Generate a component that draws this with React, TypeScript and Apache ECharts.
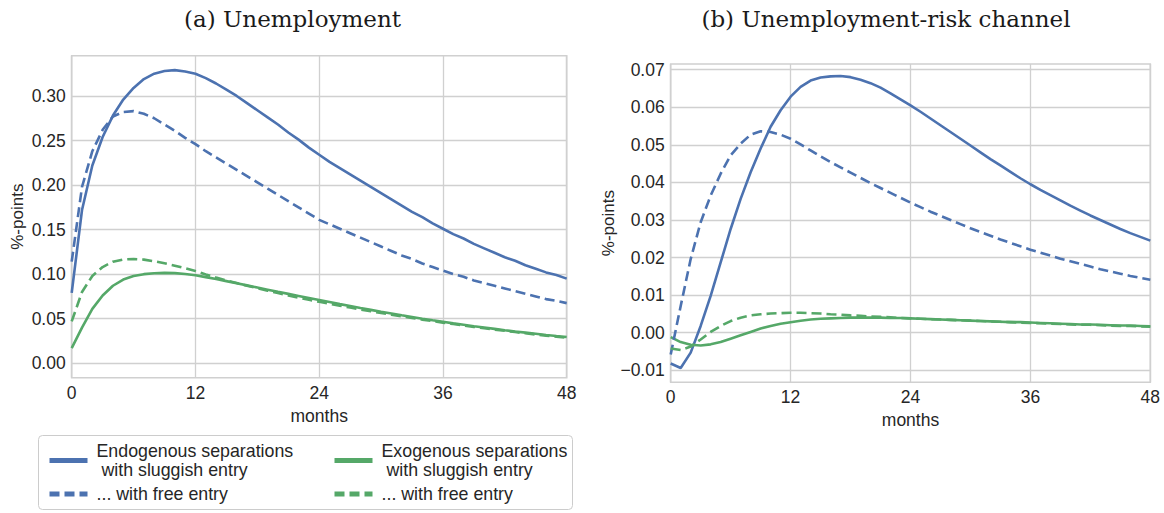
import React, { useEffect, useRef } from "react";
import * as echarts from "echarts";

// Horizon in months after the shock
const months: number[] = Array.from({ length: 49 }, (_, i) => i);

// Panel (a): unemployment response, %-points
const unempEndoSluggish = [
  0.079, 0.172, 0.222, 0.254, 0.278, 0.296, 0.309, 0.319, 0.325, 0.328,
  0.329, 0.3275, 0.325, 0.320, 0.314, 0.307, 0.300, 0.292, 0.284, 0.276,
  0.268, 0.259, 0.251, 0.242, 0.234, 0.226, 0.219, 0.212, 0.205, 0.198,
  0.191, 0.184, 0.177, 0.170, 0.164, 0.157, 0.151, 0.145, 0.140, 0.134,
  0.129, 0.124, 0.119, 0.115, 0.110, 0.106, 0.102, 0.099, 0.095,
];
const unempEndoFree = [
  0.114, 0.198, 0.238, 0.262, 0.277, 0.282, 0.283, 0.280, 0.275, 0.268,
  0.261, 0.253, 0.246, 0.238, 0.231, 0.224, 0.217, 0.210, 0.203, 0.196,
  0.189, 0.182, 0.175, 0.168, 0.161, 0.156, 0.151, 0.146, 0.141, 0.136,
  0.131, 0.126, 0.121, 0.117, 0.112, 0.108, 0.104, 0.100, 0.097, 0.093,
  0.090, 0.087, 0.084, 0.081, 0.078, 0.075, 0.072, 0.070, 0.0675,
];
const unempExoSluggish = [
  0.017, 0.040, 0.061, 0.076, 0.087, 0.094, 0.098, 0.100, 0.101, 0.1015,
  0.1012, 0.1002, 0.0988, 0.0967, 0.0945, 0.0922, 0.0898, 0.0874, 0.0850, 0.0826,
  0.0802, 0.0779, 0.0756, 0.0733, 0.0710, 0.0687, 0.0664, 0.0642, 0.0620, 0.0599,
  0.0578, 0.0558, 0.0538, 0.0519, 0.0500, 0.0482, 0.0465, 0.0448, 0.0432, 0.0416,
  0.0401, 0.0386, 0.0371, 0.0357, 0.0344, 0.0331, 0.0318, 0.0306, 0.0295,
];
const unempExoFree = [
  0.047, 0.080, 0.098, 0.108, 0.114, 0.1165, 0.117, 0.1163, 0.1145, 0.1122,
  0.1095, 0.1066, 0.1036, 0.0997, 0.0962, 0.0930, 0.0900, 0.0870, 0.0842, 0.0815,
  0.0788, 0.0762, 0.0737, 0.0713, 0.0690, 0.0668, 0.0646, 0.0625, 0.0604, 0.0584,
  0.0564, 0.0545, 0.0526, 0.0508, 0.0490, 0.0473, 0.0456, 0.0440, 0.0424, 0.0408,
  0.0393, 0.0378, 0.0364, 0.0350, 0.0336, 0.0323, 0.0310, 0.0298, 0.0286,
];

// Panel (b): unemployment-risk channel, %-points
const riskEndoSluggish = [
  -0.0082, -0.0094, -0.0053, 0.0018, 0.0098, 0.0187, 0.0276, 0.0356, 0.0427, 0.0490,
  0.0548, 0.0592, 0.0628, 0.0654, 0.0671, 0.0679, 0.0682, 0.0683, 0.0680, 0.0673,
  0.0664, 0.0652, 0.0637, 0.0621, 0.0605, 0.0588, 0.0570, 0.0552, 0.0534, 0.0516,
  0.0498, 0.0480, 0.0462, 0.0445, 0.0428, 0.0411, 0.0395, 0.0380, 0.0366, 0.0352,
  0.0338, 0.0325, 0.0312, 0.0300, 0.0288, 0.0276, 0.0265, 0.0255, 0.0245,
];
const riskEndoFree = [
  -0.0058, 0.0071, 0.0196, 0.0294, 0.0365, 0.0423, 0.0472, 0.0503, 0.0527, 0.0536,
  0.0534, 0.0527, 0.0516, 0.0501, 0.0485, 0.0469, 0.0454, 0.0440, 0.0426, 0.0412,
  0.0398, 0.0385, 0.0372, 0.0359, 0.0346, 0.0334, 0.0322, 0.0311, 0.0300, 0.0289,
  0.0278, 0.0268, 0.0258, 0.0248, 0.0239, 0.0230, 0.0221, 0.0213, 0.0205, 0.0197,
  0.0190, 0.0183, 0.0176, 0.0169, 0.0163, 0.0157, 0.0151, 0.0146, 0.0141,
];
const riskExoSluggish = [
  -0.0012, -0.0025, -0.0032, -0.0034, -0.0031, -0.0025, -0.0016, -0.0007, 0.0002, 0.0011,
  0.0018, 0.0024, 0.0028, 0.0032, 0.0035, 0.0037, 0.0038, 0.0039, 0.0040, 0.0040,
  0.0040, 0.0040, 0.0039, 0.0039, 0.0038, 0.0037, 0.0036, 0.0035, 0.0034, 0.0033,
  0.0032, 0.0031, 0.0030, 0.0029, 0.0028, 0.0028, 0.0027, 0.0026, 0.0025, 0.0024,
  0.0023, 0.0022, 0.0022, 0.0021, 0.0020, 0.0019, 0.0019, 0.0018, 0.0017,
];
const riskExoFree = [
  -0.0042, -0.0046, -0.0037, -0.0018, 0.0002, 0.0018, 0.0031, 0.0040, 0.0046, 0.0049,
  0.0051, 0.0052, 0.0053, 0.0053, 0.0052, 0.0051, 0.0049, 0.0048, 0.0046, 0.0045,
  0.0043, 0.0042, 0.0041, 0.0039, 0.0038, 0.0037, 0.0036, 0.0035, 0.0034, 0.0033,
  0.0032, 0.0031, 0.0030, 0.0029, 0.0028, 0.0027, 0.0026, 0.0025, 0.0024, 0.0023,
  0.0022, 0.0021, 0.0021, 0.0020, 0.0019, 0.0018, 0.0018, 0.0017, 0.0016,
];

// Tick values
const unempTicks = [0, 0.05, 0.1, 0.15, 0.2, 0.25, 0.3];
const riskTicks = [-0.01, 0, 0.01, 0.02, 0.03, 0.04, 0.05, 0.06, 0.07];

const panelTitles = ["(a) Unemployment", "(b) Unemployment-risk channel"];
const legendLabels: Record<string, string> = {
  endoSluggish: "Endogenous separations\n with sluggish entry",
  endoFree: "... with free entry",
  exoSluggish: "Exogenous separations\n with sluggish entry",
  exoFree: "... with free entry",
};

const BLUE = "#4C72B0";
const GREEN = "#55A868";
const GRID_GREY = "#d0d0d0";
const TEXT = "#262626";
const SANS = "Liberation Sans, Arial, sans-serif";

const fmtTick = (v: number) => {
  const s = Math.abs(v).toFixed(2);
  return v < -1e-9 ? "\u2212" + s : s;
};

const pairs = (ys: number[]) => months.map((m, i) => [m, ys[i]]);

function lineSeries(name: string, ys: number[], color: string, dashed: boolean, idx: number) {
  return {
    type: "line",
    name,
    xAxisIndex: idx,
    yAxisIndex: idx,
    data: pairs(ys),
    symbol: "none",
    smooth: false,
    lineStyle: {
      color,
      width: 2.6,
      type: dashed ? [10, 5] : "solid",
    },
    itemStyle: { color },
    z: dashed ? 3 : 2,
  };
}

function xAxisFor(idx: number) {
  return {
    type: "value",
    gridIndex: idx,
    min: 0,
    max: 48,
    interval: 12,
    name: "months",
    nameLocation: "middle",
    nameGap: 23,
    nameTextStyle: { fontFamily: SANS, fontSize: 17.5, color: TEXT },
    axisLine: { show: false },
    axisTick: { show: false },
    axisLabel: { fontFamily: SANS, fontSize: 17.5, color: TEXT, margin: 6 },
    splitLine: { show: true, lineStyle: { color: GRID_GREY, width: 1.3 } },
  };
}

function yAxisFor(idx: number, min: number, max: number, ticks: number[], nameGap: number) {
  return {
    type: "value",
    gridIndex: idx,
    min,
    max,
    name: "%-points",
    nameLocation: "middle",
    nameGap,
    nameRotate: 90,
    nameTextStyle: { fontFamily: SANS, fontSize: 17, color: TEXT },
    axisLine: { show: false },
    axisTick: { show: false, customValues: ticks },
    axisLabel: {
      fontFamily: SANS,
      fontSize: 17.5,
      color: TEXT,
      margin: 6,
      customValues: ticks,
      formatter: (v: number) => fmtTick(v),
    },
    splitLine: { show: true, lineStyle: { color: GRID_GREY, width: 1.3 } },
  };
}

function legendColumn(left: number, names: string[]) {
  return {
    orient: "vertical",
    left,
    top: 436.5,
    itemWidth: 38,
    itemHeight: 14,
    itemGap: 5,
    data: names,
    formatter: (name: string) => legendLabels[name],
    selectedMode: false,
    itemStyle: { opacity: 0 },
    lineStyle: { width: 5 },
    textStyle: {
      fontFamily: SANS,
      fontSize: 17.8,
      lineHeight: 19,
      color: TEXT,
      padding: [0, 0, 0, 4],
    },
  };
}

export default function App() {
  const ref = useRef<HTMLDivElement>(null);

  useEffect(() => {
    if (!ref.current) return;
    const chart = echarts.init(ref.current, undefined, { renderer: "svg" });

    chart.setOption({
      animation: false,
      backgroundColor: "#ffffff",
      grid: [
        {
          left: 71.7,
          top: 55.7,
          right: 1164 - 566.7,
          bottom: 513 - 377.7,
          show: true,
          borderColor: GRID_GREY,
          borderWidth: 1.6,
          backgroundColor: "transparent",
        },
        {
          left: 670.7,
          top: 64,
          right: 1164 - 1150.3,
          bottom: 513 - 382.3,
          show: true,
          borderColor: GRID_GREY,
          borderWidth: 1.6,
          backgroundColor: "transparent",
        },
      ],
      xAxis: [xAxisFor(0), xAxisFor(1)],
      yAxis: [
        yAxisFor(0, -0.0162, 0.3452, unempTicks, 46),
        yAxisFor(1, -0.0132, 0.0715, riskTicks, 52),
      ],
      legend: [
        legendColumn(42, ["endoSluggish", "endoFree"]),
        legendColumn(327, ["exoSluggish", "exoFree"]),
      ],
      graphic: [
        {
          type: "rect",
          z: 0,
          shape: { x: 38.5, y: 435.5, width: 534, height: 74, r: 4 },
          style: { fill: "#ffffff", stroke: "#cccccc", lineWidth: 1 },
        },
        {
          type: "text",
          x: 292.5,
          y: 19,
          style: {
            text: panelTitles[0],
            fontFamily: "DejaVu Serif, serif",
            fontSize: 23,
            fill: "#1a1a1a",
            align: "center",
            verticalAlign: "middle",
          },
        },
        {
          type: "text",
          x: 886,
          y: 19,
          style: {
            text: panelTitles[1],
            fontFamily: "DejaVu Serif, serif",
            fontSize: 23,
            fill: "#1a1a1a",
            align: "center",
            verticalAlign: "middle",
          },
        },
      ],
      series: [
        lineSeries("endoSluggish", unempEndoSluggish, BLUE, false, 0),
        lineSeries("endoFree", unempEndoFree, BLUE, true, 0),
        lineSeries("exoSluggish", unempExoSluggish, GREEN, false, 0),
        lineSeries("exoFree", unempExoFree, GREEN, true, 0),
        lineSeries("endoSluggish", riskEndoSluggish, BLUE, false, 1),
        lineSeries("endoFree", riskEndoFree, BLUE, true, 1),
        lineSeries("exoSluggish", riskExoSluggish, GREEN, false, 1),
        lineSeries("exoFree", riskExoFree, GREEN, true, 1),
      ],
    });

    return () => chart.dispose();
  }, []);

  return (
    <div
      ref={ref}
      style={{ position: "fixed", left: 0, top: 0, width: 1164, height: 513 }}
    />
  );
}
